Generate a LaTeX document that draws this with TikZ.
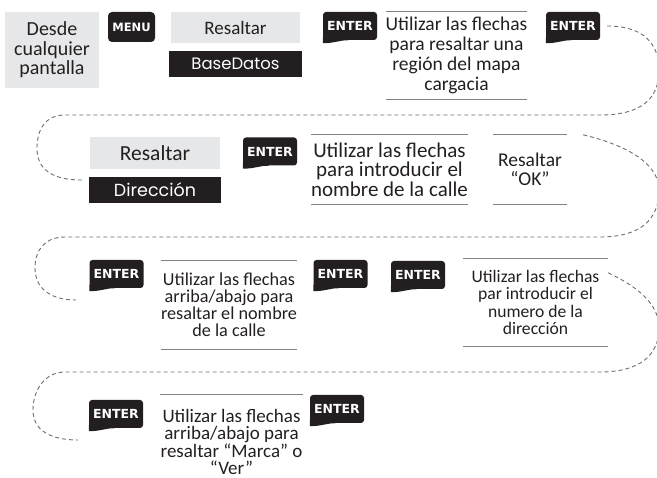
\documentclass[tikz,border=0pt]{standalone}
\usepackage{fontspec}
\setmainfont{Carlito}
\newfontfamily\lcdfont{Poppins}
\newfontfamily\keyfont{DejaVu Sans}
\usepackage{tikz}
\usetikzlibrary{calc}
\definecolor{boxGray}{HTML}{E6E7E8}
\definecolor{keyBlack}{HTML}{231F20}
\definecolor{ruleGray}{HTML}{808285}
\definecolor{flowGray}{HTML}{6D6E71}

\tikzset{
  graybox/.style={fill=boxGray, text=keyBlack, inner sep=0pt, align=center, font=\fontsize{19}{19}\selectfont},
  lcdbox/.style={fill=keyBlack, text=white, inner sep=0pt, font=\lcdfont\fontsize{16.5}{18}\selectfont},
  keycap/.style={fill=keyBlack, text=white, rounded corners=3pt, minimum width=54pt, minimum height=28pt, inner sep=0pt, font=\keyfont\bfseries\fontsize{12.5}{13}\selectfont},
  ruled/.style={text=keyBlack, align=center, inner sep=0pt, font=\fontsize{19}{19}\selectfont},
  rule/.style={ruleGray, line width=1.3pt},
  flow/.style={flowGray, line width=0.9pt, dash pattern=on 4pt off 3pt}
}

\begin{document}
\begin{tikzpicture}[x=1pt, y=-1pt]
  \useasboundingbox (0,0) rectangle (657,478);
  % fila 1
  \node[graybox, minimum width=94pt, minimum height=76pt, font=\fontsize{20}{19.5}\selectfont] (desde) at (52,50) {Desde\\cualquier\\pantalla};
  \node[keycap, rounded corners=4pt, minimum width=47pt, minimum height=30pt, font=\keyfont\bfseries\fontsize{11.5}{12}\selectfont] (menu) at (131.5,27) {MENU};
  \node[graybox, minimum width=129pt, minimum height=31pt] (resaltarA) at (235.5,27.5) {Resaltar};
  \node[lcdbox, minimum width=133pt, minimum height=26pt] (basedatos) at (235.5,64) {BaseDatos};
  \node[keycap] (enterA) at (350,26) {ENTER};
  \node[ruled, minimum width=136pt, minimum height=87pt, font=\fontsize{19.5}{20}\selectfont] (regionA) at (456.5,55.5) {Utilizar las flechas\\para resaltar una\\región del mapa\\cargacia};
  \node[keycap] (enterB) at (573,26) {ENTER};
  % fila 2
  \node[graybox, minimum width=130pt, minimum height=32pt, font=\fontsize{21.5}{20}\selectfont] (resaltarB) at (155,153) {Resaltar};
  \node[lcdbox, minimum width=132pt, minimum height=26pt, font=\lcdfont\fontsize{17.5}{18}\selectfont] (direccion) at (155,190) {Dirección};
  \node[keycap] (enterC) at (270,151.5) {ENTER};
  \node[ruled, minimum width=157pt, minimum height=69pt, font=\fontsize{21}{19.5}\selectfont] (calleA) at (389.5,169.5) {Utilizar las flechas\\para introducir el\\nombre de la calle};
  \node[ruled, minimum width=74pt, minimum height=69pt, font=\fontsize{19.5}{19}\selectfont] (okA) at (530,169.5) {Resaltar\\“OK”};
  % fila 3
  \node[keycap] (enterD) at (116.5,274) {ENTER};
  \node[ruled, minimum width=134pt, minimum height=88pt, font=\fontsize{18.2}{17}\selectfont] (calleB) at (229,305) {Utilizar las flechas\\arriba/abajo para\\resaltar el nombre\\de la calle};
  \node[keycap] (enterE) at (340.5,274) {ENTER};
  \node[keycap] (enterF) at (418,275) {ENTER};
  \node[ruled, minimum width=145pt, minimum height=87pt, font=\fontsize{17.6}{17.5}\selectfont] (numeroA) at (535.5,302.5) {Utilizar las flechas\\par introducir el\\numero de la\\dirección};
  % fila 4
  \node[keycap] (enterG) at (116,414) {ENTER};
  \node[ruled, minimum width=133pt, minimum height=94pt, font=\fontsize{19}{17.5}\selectfont] (marcaA) at (231.5,442) {Utilizar las flechas\\arriba/abajo para\\resaltar “Marca” o\\“Ver”};
  \node[keycap] (enterH) at (337,409) {ENTER};
  % colas de las teclas
  \foreach \k in {enterA,enterB,enterC,enterD,enterE,enterF,enterG,enterH}{
    \fill[keyBlack] ($(\k.south west)+(0,-3)$) -- ($(\k.south west)+(0,3)$)
      .. controls ($(\k.south west)+(12,3)$) and ($(\k.south west)+(16,0)$) .. ($(\k.south west)+(26,0)$)
      -- ($(\k.south west)+(26,-3)$) -- cycle;
  }
  % lineas
  \foreach \t in {regionA,calleA,okA,calleB,numeroA}{
    \draw[rule] (\t.north west) -- (\t.north east);
    \draw[rule] (\t.south west) -- (\t.south east);
  }
  \draw[rule] (marcaA.north west) -- (marcaA.north east);
  % conexiones entre filas
  \coordinate (finA) at (82,180);
  \coordinate (finB) at (76,300);
  \coordinate (finC) at (78,440);
  \draw[flow] ([xshift=7pt]enterB.east) .. controls (645,26) and (659,45) .. (659,70)
    .. controls (659,100) and (640,115) .. (600,115) -- (65,115)
    .. controls (45,115) and (37,130) .. (37,148) .. controls (37,168) and (50,180) .. (finA);
  \draw[flow] ([xshift=16pt]okA.north east) .. controls (630,146) and (659,165) .. (659,190)
    .. controls (659,220) and (640,237) .. (600,237) -- (65,237)
    .. controls (45,237) and (35,250) .. (35,268) .. controls (35,288) and (50,300) .. (finB);
  \draw[flow] ([yshift=-14pt]numeroA.north east) .. controls (640,288) and (659,305) .. (659,328)
    .. controls (659,355) and (640,372) .. (600,372) -- (65,372)
    .. controls (45,372) and (33,390) .. (33,410) .. controls (33,430) and (50,440) .. (finC);
\end{tikzpicture}
\end{document}
